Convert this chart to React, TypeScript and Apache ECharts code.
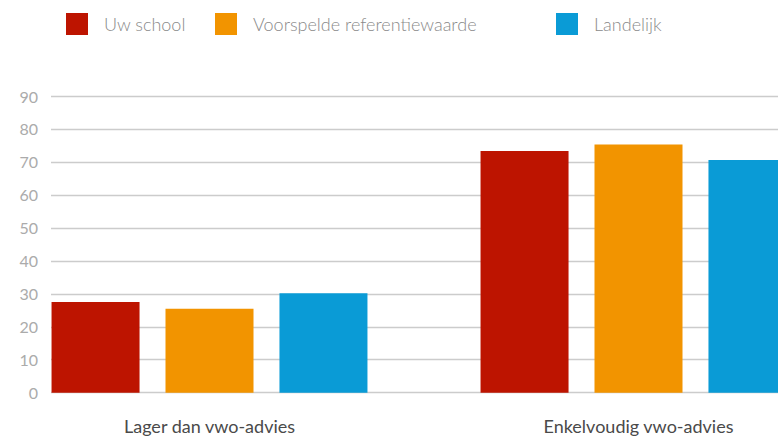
import React, { useEffect, useRef } from "react";
import * as echarts from "echarts";

const categories = ["Lager dan vwo-advies", "Enkelvoudig vwo-advies"];
const seriesNames = ["Uw school", "Voorspelde referentiewaarde", "Landelijk"];
const uwSchool = [27.5, 73.3];
const voorspeld = [25.5, 75.3];
const landelijk = [30.2, 70.6];
const colors = ["#BD1400", "#F29400", "#0A9BD6"];
const yTicks = { min: 0, max: 90, interval: 10 };

const FONT = "Lato";
const OFFSET = 10; // chart canvas starts 10px left of the visible window
const CHART_W = 900;

export default function App() {
  const ref = useRef<HTMLDivElement>(null);
  useEffect(() => {
    if (!ref.current) return;
    const chart = echarts.init(ref.current, undefined, { renderer: "svg" });
    const values = [uwSchool, voorspeld, landelijk];
    const legendLefts = [66, 215, 556];
    chart.setOption({
      animation: false,
      textStyle: { fontFamily: FONT },
      legend: seriesNames.map((n, i) => ({
        data: [n],
        left: legendLefts[i] + OFFSET,
        top: 13,
        padding: 0,
        icon: "rect",
        itemWidth: 22,
        itemHeight: 22,
        selectedMode: false,
        textStyle: {
          color: "#8a8a8a",
          fontSize: 18,
          fontFamily: FONT,
          fontWeight: 300,
          padding: [0, 0, 0, 11],
        },
      })),
      grid: [
        { left: OFFSET - 5, width: 858, top: 96, bottom: 45.3, containLabel: false },
        { left: OFFSET + 51, right: CHART_W - OFFSET - 778, top: 96, bottom: 45.3, containLabel: false },
      ],
      xAxis: [
        {
          type: "category",
          gridIndex: 0,
          data: categories,
          axisLine: { show: false },
          axisTick: { show: false },
          axisLabel: { color: "#4a4a4a", fontSize: 18, fontFamily: FONT, margin: 24 },
        },
        { type: "category", gridIndex: 1, data: categories, show: false },
      ],
      yAxis: [
        { type: "value", gridIndex: 0, ...yTicks, show: false, splitLine: { show: false } },
        {
          type: "value",
          gridIndex: 1,
          ...yTicks,
          axisLine: { show: false },
          axisTick: { show: false },
          axisLabel: { color: "#ababab", fontSize: 16, fontFamily: FONT, margin: 13 },
          splitLine: { lineStyle: { color: "#cccccc", width: 1.3 } },
        },
      ],
      series: seriesNames.map((n, i) => ({
        name: n,
        type: "bar",
        xAxisIndex: 0,
        yAxisIndex: 0,
        data: values[i],
        barWidth: 88,
        barGap: "29.5%",
        itemStyle: { color: colors[i] },
      })),
    });
    return () => chart.dispose();
  }, []);
  return (
    <div
      style={{ position: "fixed", left: 0, top: 0, width: 778, height: 438, overflow: "hidden", background: "#fff" }}
    >
      <div
        ref={ref}
        style={{ position: "absolute", left: -OFFSET, top: 0, width: CHART_W, height: 438 }}
      />
    </div>
  );
}
